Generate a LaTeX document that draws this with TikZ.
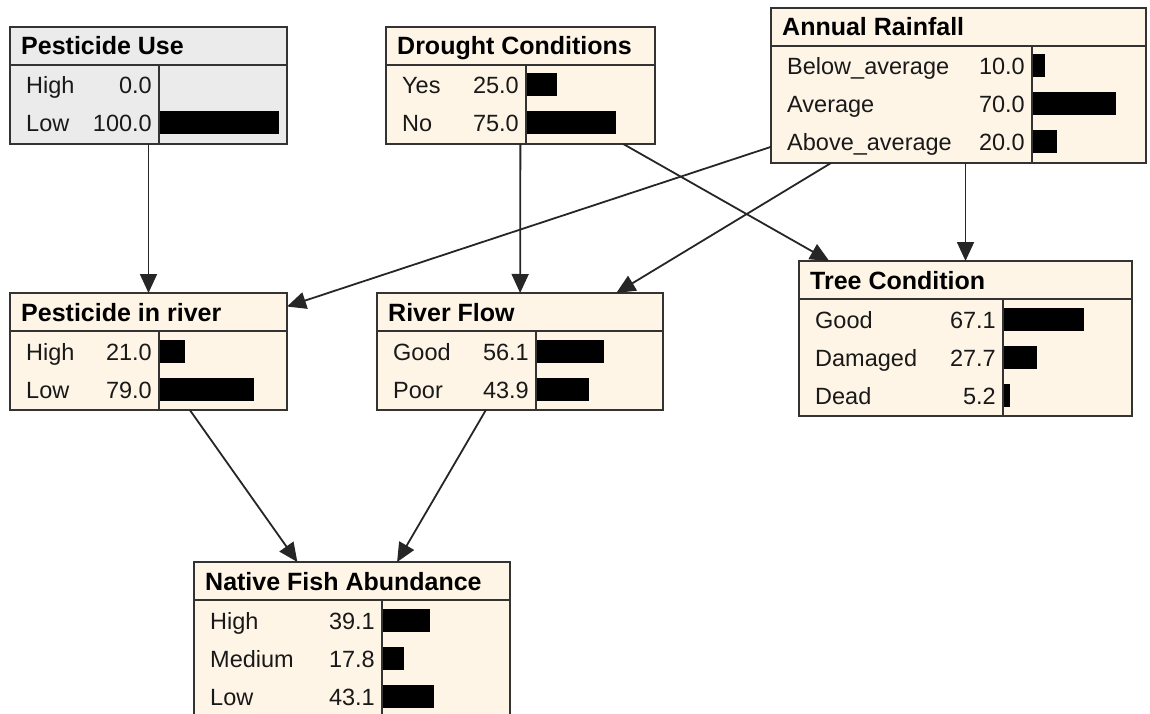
\documentclass[tikz,border=0pt]{standalone}
\usepackage{fontspec}
\setmainfont{Liberation Sans}
\usepackage{tikz}
\usetikzlibrary{calc}
\usetikzlibrary{arrows.meta}
\definecolor{cream}{HTML}{FEF5E7}
\definecolor{greybox}{HTML}{EBEBEB}
\definecolor{edge}{HTML}{333333}
\tikzstyle{netbox}=[draw=edge, line width=1.8pt, rectangle, inner sep=0pt, outer sep=0pt, anchor=north west]
\tikzstyle{boxtitle}=[anchor=base west, inner sep=0pt, font=\fontsize{25}{30}\selectfont\bfseries]
\tikzstyle{statename}=[anchor=base west, inner sep=0pt, text=black!90, font=\fontsize{23.5}{28}\selectfont]
\tikzstyle{stateval}=[anchor=base east, inner sep=0pt, text=black!90, font=\fontsize{23.5}{28}\selectfont]
\tikzstyle{rule}=[draw=edge, line width=1.4pt]
\tikzstyle{bar}=[fill=black]
\tikzstyle{link}=[draw=black!85, line width=1.8pt, -{Triangle[length=19pt, width=17pt]}]

\begin{document}
\begin{tikzpicture}[x=1pt, y=-1pt]
    \useasboundingbox (0,0) rectangle (1150,714);
    % top row
    \node[netbox, fill=greybox, minimum width=277, minimum height=117] (pu) at (10,27) {};
    \node[boxtitle] (pu-t) at (21,55) {Pesticide Use};
    \draw[rule] (10,65) -- (287,65);
    \draw[rule] (159,65) -- (159,144);
    \node[statename] (pu-s1) at (26,94) {High};
    \node[stateval] (pu-v1) at (152,94) {0.0};
    \node[statename] (pu-s2) at (26,132) {Low};
    \node[stateval] (pu-v2) at (152,132) {100.0};
    \fill[bar] (160,111.5) rectangle ++(119,23);

    \node[netbox, fill=cream, minimum width=269, minimum height=117] (dc) at (386,27) {};
    \node[boxtitle] (dc-t) at (397,55) {Drought Conditions};
    \draw[rule] (386,65) -- (655,65);
    \draw[rule] (526,65) -- (526,144);
    \node[statename] (dc-s1) at (402,94) {Yes};
    \node[stateval] (dc-v1) at (519,94) {25.0};
    \node[statename] (dc-s2) at (402,132) {No};
    \node[stateval] (dc-v2) at (519,132) {75.0};
    \fill[bar] (527,73.5) rectangle ++(29.8,23);
    \fill[bar] (527,111.5) rectangle ++(89.3,23);

    \node[netbox, fill=cream, minimum width=375, minimum height=155] (ar) at (771,8) {};
    \node[boxtitle] (ar-t) at (782,36) {Annual Rainfall};
    \draw[rule] (771,46) -- (1146,46);
    \draw[rule] (1032,46) -- (1032,163);
    \node[statename] (ar-s1) at (787,75) {Below\_average};
    \node[stateval] (ar-v1) at (1025,75) {10.0};
    \node[statename] (ar-s2) at (787,113) {Average};
    \node[stateval] (ar-v2) at (1025,113) {70.0};
    \node[statename] (ar-s3) at (787,151) {Above\_average};
    \node[stateval] (ar-v3) at (1025,151) {20.0};
    \fill[bar] (1033,54.5) rectangle ++(11.9,23);
    \fill[bar] (1033,92.5) rectangle ++(83.3,23);
    \fill[bar] (1033,130.5) rectangle ++(23.8,23);

    % middle row
    \node[netbox, fill=cream, minimum width=277, minimum height=117] (pr) at (10,293) {};
    \node[boxtitle] (pr-t) at (21,321) {Pesticide in river};
    \draw[rule] (10,331) -- (287,331);
    \draw[rule] (159,331) -- (159,410);
    \node[statename] (pr-s1) at (26,360) {High};
    \node[stateval] (pr-v1) at (152,360) {21.0};
    \node[statename] (pr-s2) at (26,398) {Low};
    \node[stateval] (pr-v2) at (152,398) {79.0};
    \fill[bar] (160,339.5) rectangle ++(25,23);
    \fill[bar] (160,377.5) rectangle ++(94,23);

    \node[netbox, fill=cream, minimum width=286, minimum height=117] (rf) at (377,293) {};
    \node[boxtitle] (rf-t) at (388,321) {River Flow};
    \draw[rule] (377,331) -- (663,331);
    \draw[rule] (536,331) -- (536,410);
    \node[statename] (rf-s1) at (393,360) {Good};
    \node[stateval] (rf-v1) at (529,360) {56.1};
    \node[statename] (rf-s2) at (393,398) {Poor};
    \node[stateval] (rf-v2) at (529,398) {43.9};
    \fill[bar] (537,339.5) rectangle ++(66.8,23);
    \fill[bar] (537,377.5) rectangle ++(52.2,23);

    \node[netbox, fill=cream, minimum width=333, minimum height=155] (tc) at (799,261) {};
    \node[boxtitle] (tc-t) at (810,289) {Tree Condition};
    \draw[rule] (799,299) -- (1132,299);
    \draw[rule] (1003,299) -- (1003,416);
    \node[statename] (tc-s1) at (815,328) {Good};
    \node[stateval] (tc-v1) at (996,328) {67.1};
    \node[statename] (tc-s2) at (815,366) {Damaged};
    \node[stateval] (tc-v2) at (996,366) {27.7};
    \node[statename] (tc-s3) at (815,404) {Dead};
    \node[stateval] (tc-v3) at (996,404) {5.2};
    \fill[bar] (1004,307.5) rectangle ++(79.8,23);
    \fill[bar] (1004,345.5) rectangle ++(33,23);
    \fill[bar] (1004,383.5) rectangle ++(6.2,23);

    % bottom
    \node[netbox, fill=cream, minimum width=316, minimum height=155] (nf) at (194,562) {};
    \node[boxtitle] (nf-t) at (205,590) {Native Fish Abundance};
    \draw[rule] (194,600) -- (510,600);
    \draw[rule] (382,600) -- (382,717);
    \node[statename] (nf-s1) at (210,629) {High};
    \node[stateval] (nf-v1) at (375,629) {39.1};
    \node[statename] (nf-s2) at (210,667) {Medium};
    \node[stateval] (nf-v2) at (375,667) {17.8};
    \node[statename] (nf-s3) at (210,705) {Low};
    \node[stateval] (nf-v3) at (375,705) {43.1};
    \fill[bar] (383,608.5) rectangle ++(46.5,23);
    \fill[bar] (383,646.5) rectangle ++(21.2,23);
    \fill[bar] (383,684.5) rectangle ++(51.3,23);

    % links
    \draw[link] (pu) -- (pr);
    \draw[link] (dc) -- (rf);
    \draw[link] (dc) -- (tc);
    \draw[link] (ar) -- (pr);
    \draw[link] (ar) -- (rf);
    \draw[link] (tc.north |- ar.south) -- (tc.north);
    \draw[link] (pr) -- (nf);
    \draw[link] (rf) -- (nf);
\end{tikzpicture}
\end{document}
